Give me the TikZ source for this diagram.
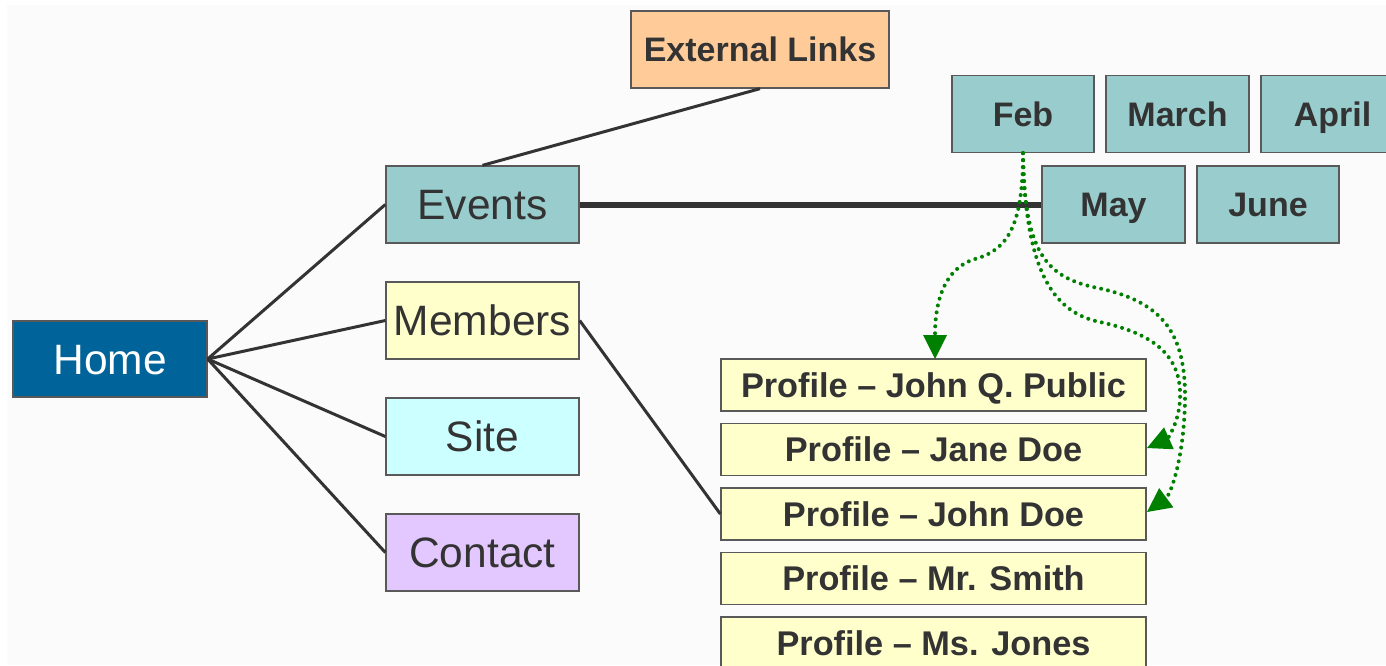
\documentclass[tikz,border=0pt]{standalone}
\usepackage{fontspec}
\setmainfont{Liberation Sans}
\usetikzlibrary{arrows.meta}
\definecolor{txt}{HTML}{333333}
\definecolor{homeblue}{HTML}{006399}
\definecolor{teal}{HTML}{99CCCC}
\definecolor{lyellow}{HTML}{FFFFCC}
\definecolor{lcyan}{HTML}{CCFFFF}
\definecolor{lpurple}{HTML}{E2C8FF}
\definecolor{lorange}{HTML}{FFCC99}
\definecolor{dgreen}{HTML}{008000}
\tikzset{
  box/.style={draw=black!65, line width=1.3pt, rectangle, inner sep=0pt, text=txt, text depth=0pt},
  big/.style={box, minimum width=193pt, minimum height=77pt, font=\fontsize{42.5}{48}\selectfont, text height=30.4pt},
  bold/.style={font=\fontsize{34}{40}\selectfont\bfseries, text height=24.4pt},
  month/.style={box, bold, fill=teal, minimum width=143pt, minimum height=77pt},
  prof/.style={box, fill=lyellow, minimum width=425pt, minimum height=52pt, font=\fontsize{34.3}{40}\selectfont\bfseries, text height=24.6pt},
  conn/.style={draw=txt, line width=3pt},
  link/.style={draw=dgreen, line width=4pt, line cap=round, dash pattern=on 0pt off 7pt,
     -{Triangle[length=24pt,width=24pt,fill=dgreen,line width=0pt]}},
}
\begin{document}
\begin{tikzpicture}[x=1pt,y=-1pt]
\useasboundingbox (0,0) rectangle (1386,665);
\fill[white] (0,0) rectangle (1386,665);
\fill[black!1.5] (7,5) rectangle (1386,665);
% main nodes
\node[big, fill=homeblue, text=white, minimum width=194pt, minimum height=76pt] (home) at (110,359) {Home};
\node[big, fill=teal] (events) at (482.5,204.5) {Events};
\node[big, fill=lyellow] (members) at (482.5,320.5) {Members};
\node[big, fill=lcyan] (site) at (482.5,436.5) {Site};
\node[big, fill=lpurple] (contact) at (482.5,552.5) {Contact};
\node[box, bold, fill=lorange, minimum width=258pt, minimum height=77pt] (ext) at (760,49.5) {External Links};
% months
\node[month, minimum width=142pt] (feb) at (1023,114) {Feb};
\node[month] (march) at (1177.5,114) {March};
\node[month] (april) at (1332.5,114) {April};
\node[month] (may) at (1113.5,204.5) {May};
\node[month, minimum width=142pt] (june) at (1268,204.5) {June};
% profiles
\node[prof] (p1) at (933.5,385) {Profile – John Q. Public};
\node[prof] (p2) at (933.5,449.5) {Profile – Jane Doe};
\node[prof] (p3) at (933.5,514) {Profile – John Doe};
\node[prof] (p4) at (933.5,578.5) {Profile – Mr. Smith};
\node[prof] (p5) at (933.5,643) {Profile – Ms. Jones};
% connectors
\draw[conn] (home.east) -- (events.west);
\draw[conn] (home.east) -- (members.west);
\draw[conn] (home.east) -- (site.west);
\draw[conn] (home.east) -- (contact.west);
\draw[conn] (events.north) -- (ext.south);
\draw[conn, line width=6pt] (events.east) -- (may.west);
\draw[conn] (members.east) -- (p3.west);
% green dotted links
\coordinate (fs) at (feb.south);
\coordinate (t1) at (935,359);
\coordinate (t2) at (1147,448);
\coordinate (t3) at (1147,512);
\draw[link] (fs) .. controls (1023,225) and (1008,250) .. (975,259)
  .. controls (945,268) and (935,300) .. (t1);
\draw[link] (fs) .. controls (1025,265) and (1050,312) .. (1100,322)
  .. controls (1160,335) and (1182,360) .. (1180,400)
  .. controls (1178,428) and (1165,440) .. (t2);
\draw[link] (fs) .. controls (1024,250) and (1045,276) .. (1093,287)
  .. controls (1160,300) and (1186,330) .. (1185,400)
  .. controls (1184,460) and (1170,495) .. (t3);
\end{tikzpicture}
\end{document}
